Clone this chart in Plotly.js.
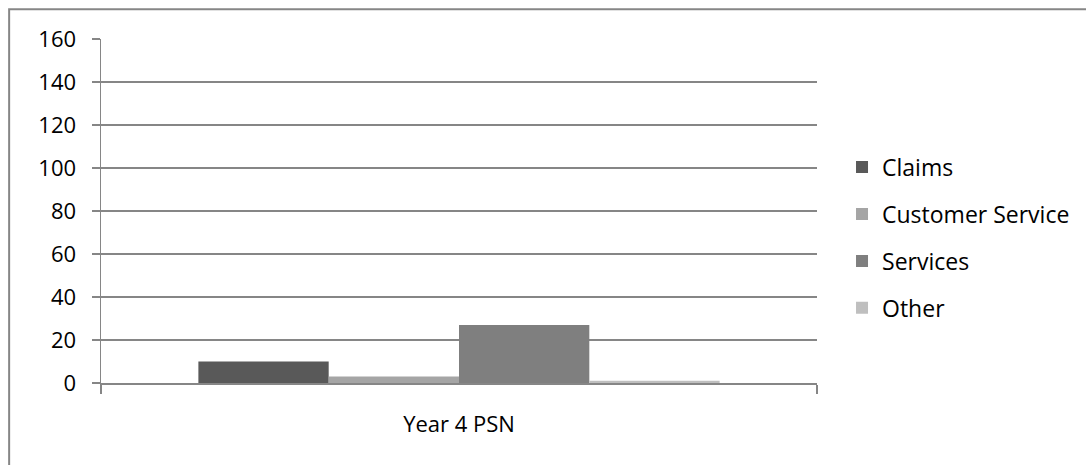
<!DOCTYPE html>
<html>
<head>
<meta charset="utf-8">
<script src="https://cdn.plot.ly/plotly-3.0.1.min.js"></script>
<style>
  html, body { margin: 0; padding: 0; background: #ffffff; }
  #chart { width: 1086px; height: 465px; }
</style>
</head>
<body>
<div id="chart"></div>
<script>
// Department breakdown for the single reporting period
const categories = ["Year 4 PSN"];
const seriesNames = ["Claims", "Customer Service", "Services", "Other"];
const claims = [10];
const customerService = [3];
const services = [27];
const other = [1];
const yTicks = [0, 20, 40, 60, 80, 100, 120, 140, 160];

const seriesValues = [claims, customerService, services, other];
const seriesColors = ["#595959", "#a5a5a5", "#7f7f7f", "#bfbfbf"];

const traces = seriesNames.map((name, i) => ({
  type: "bar",
  name: name,
  x: categories,
  y: seriesValues[i],
  marker: { color: seriesColors[i], line: { width: 0 } },
  legendgroup: "g" + i,
  hoverinfo: "skip"
}));

const axisGrey = "#868686";
const axisFont = { family: "'Open Sans', sans-serif", size: 22, color: "#000000" };
const legendFont = { family: "'Open Sans', sans-serif", size: 23, color: "#000000" };

const layout = {
  width: 1086,
  height: 465,
  margin: { l: 101, r: 268, t: 39, b: 82, pad: 0 },
  paper_bgcolor: "#ffffff",
  plot_bgcolor: "#ffffff",
  font: axisFont,
  barmode: "group",
  bargap: 0.272,
  bargroupgap: 0,
  showlegend: true,
  legend: {
    x: 1.0335, xanchor: "left",
    y: 0.69, yanchor: "top",
    traceorder: "grouped",
    tracegroupgap: 14,
    font: legendFont,
    itemwidth: 30,
    bgcolor: "rgba(0,0,0,0)"
  },
  xaxis: {
    type: "category",
    showline: true,
    linecolor: axisGrey,
    linewidth: 1.5,
    ticks: "outside",
    tickson: "boundaries",
    ticklen: 9,
    tickcolor: axisGrey,
    tickwidth: 1.5,
    ticklabelstandoff: 21,
    showgrid: false,
    zeroline: false,
    tickfont: axisFont
  },
  yaxis: {
    range: [0, 160],
    tickvals: yTicks,
    ticktext: yTicks.map(String),
    showline: true,
    linecolor: axisGrey,
    linewidth: 1.5,
    ticks: "outside",
    ticklen: 8,
    tickcolor: axisGrey,
    tickwidth: 1.5,
    ticklabelstandoff: 11,
    showgrid: true,
    gridcolor: axisGrey,
    gridwidth: 1.2,
    zeroline: false,
    tickfont: axisFont
  },
  shapes: [{
    type: "rect",
    xref: "paper", yref: "paper",
    x0: -0.1283, x1: 1.6,
    y0: -0.6, y1: 1.0865,
    line: { color: axisGrey, width: 2 },
    fillcolor: "rgba(0,0,0,0)",
    layer: "below"
  }]
};

Plotly.newPlot("chart", traces, layout, { staticPlot: true, displayModeBar: false });
</script>
</body>
</html>
